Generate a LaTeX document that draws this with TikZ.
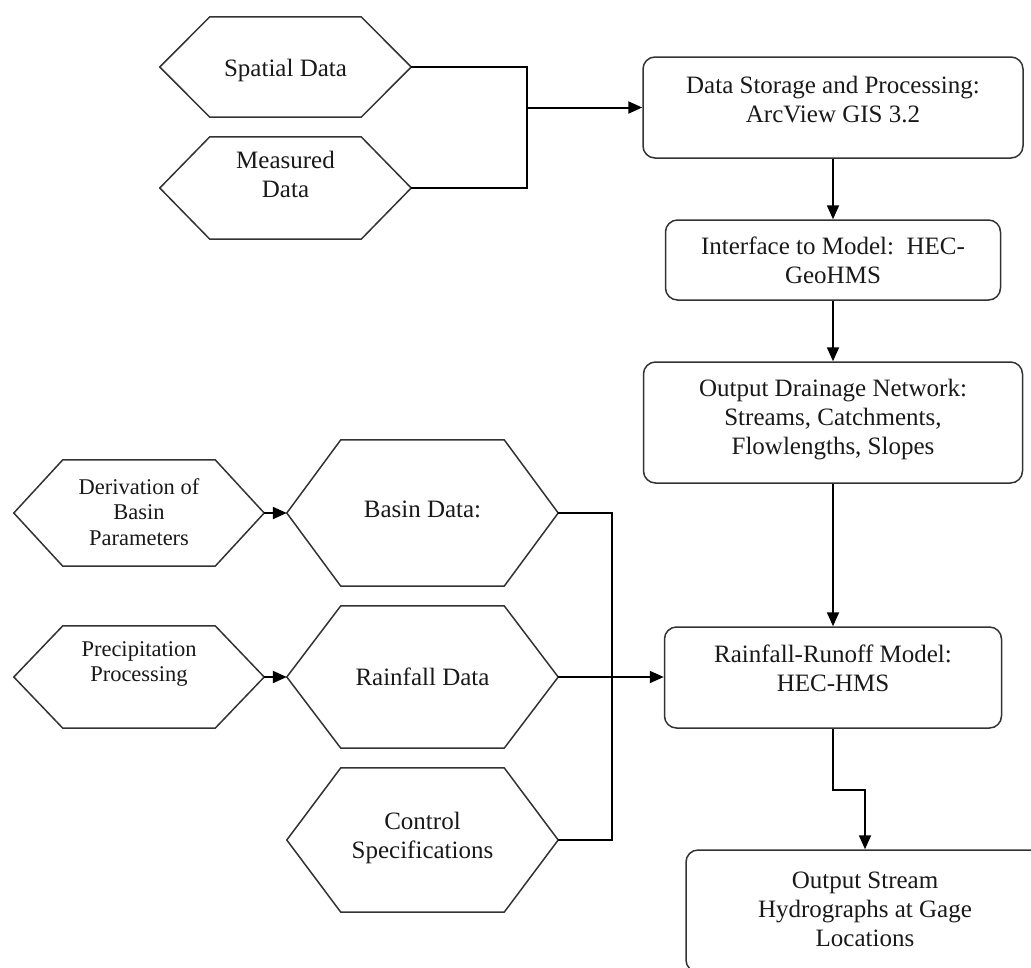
\documentclass[tikz,border=0pt]{standalone}
\usepackage{fontspec}
\setmainfont{Liberation Serif}
\usetikzlibrary{arrows.meta,calc}
\newcommand\mkhex[2]{%
  \draw[shapeline] (#1.west) -- ($(#1.north west)+(#2,0)$) -- ($(#1.north east)+(-#2,0)$)
    -- (#1.east) -- ($(#1.south east)+(-#2,0)$) -- ($(#1.south west)+(#2,0)$) -- cycle;}
\begin{document}
\begin{tikzpicture}[x=1pt,y=-1pt,
  shapeline/.style={draw=black!80, line width=1.5pt},
  box/.style={shapeline, rounded corners=12pt, rectangle, inner sep=0pt},
  hexnode/.style={rectangle, inner sep=0pt},
  txt/.style={align=center, font=\fontsize{25}{29}\selectfont, text=black!90, inner sep=0pt},
  smalltxt/.style={txt, font=\fontsize{22.5}{25.5}\selectfont},
  conn/.style={line width=2pt, draw=black},
  arr/.style={conn, -{Triangle[length=14pt,width=12pt]}},
]
\useasboundingbox (0,0) rectangle (1031,967);

% ---------- hexagons ----------
\node[hexnode, minimum width=251pt, minimum height=100pt] (spatial) at (285.5,67) {};
\node[hexnode, minimum width=251pt, minimum height=102pt] (measured) at (285.5,188) {};
\node[hexnode, minimum width=250pt, minimum height=106pt] (deriv) at (139,513) {};
\node[hexnode, minimum width=271pt, minimum height=146pt] (basin) at (422.5,513) {};
\node[hexnode, minimum width=250pt, minimum height=102pt] (precip) at (139,677) {};
\node[hexnode, minimum width=271pt, minimum height=142pt] (rain) at (422.5,677) {};
\node[hexnode, minimum width=271pt, minimum height=144pt] (control) at (422.5,840) {};

\mkhex{spatial}{50}
\mkhex{measured}{50}
\mkhex{deriv}{49}
\mkhex{basin}{54}
\mkhex{precip}{49}
\mkhex{rain}{54}
\mkhex{control}{54}

\node[txt] (spatialT) at ($(spatial)+(0,3)$) {Spatial Data};
\node[txt] (measuredT) at ($(measured)+(0,-14)$) {Measured\\Data};
\node[smalltxt] (derivT) at ($(deriv)+(0,-1)$) {Derivation of\\Basin\\Parameters};
\node[txt] (basinT) at ($(basin)+(0,-4)$) {Basin Data:};
\node[smalltxt] (precipT) at ($(precip)+(0,-13)$) {Precipitation\\Processing};
\node[txt] (rainT) at ($(rain)+(0,0)$) {Rainfall Data};
\node[txt] (controlT) at ($(control)+(0,-2)$) {Control\\Specifications};

% ---------- boxes ----------
\node[box, minimum width=380pt, minimum height=101pt] (b1) at (833,107.5) {};
\node[txt] (b1T) at (833,100) {Data Storage and Processing:\\ArcView GIS 3.2};
\node[box, minimum width=335pt, minimum height=80pt] (b2) at (833,260) {};
\node[txt] (b2T) at (833,260) {Interface to Model:\ \ HEC-\\GeoHMS};
\node[box, minimum width=379pt, minimum height=121pt] (b3) at (833,422.5) {};
\node[txt] (b3T) at (833,420) {Output Drainage Network:\\Streams, Catchments,\\Flowlengths, Slopes};
\node[box, minimum width=337pt, minimum height=101pt] (b4) at (833,677.5) {};
\node[txt] (b4T) at (833,668) {Rainfall-Runoff Model:\\HEC-HMS};
\begin{scope}
  \clip (0,0) rectangle (1031,967);
  \node[box, minimum width=358pt, minimum height=122pt] (b5) at (865,911) {};
\end{scope}
\node[txt] (b5T) at (865,909) {Output Stream\\Hydrographs at Gage\\Locations};

% ---------- connectors ----------
\coordinate (jA) at (527,107.5);
\coordinate (jC) at (612,677);
\draw[conn] (spatial.east) -| (jA) |- (measured.east);
\draw[arr] (jA) -- (b1.west);
\draw[arr] (b1.south) -- (b1.south |- b2.north);
\draw[arr] (b2.south) -- (b2.south |- b3.north);
\draw[arr] (b3.south) -- (b3.south |- b4.north);
\draw[arr] (b4.south) -- ++(0,61) -| (b5.north);
\draw[arr] (deriv.east) -- (basin.west);
\draw[arr] (precip.east) -- (rain.west);
\draw[conn] (basin.east) -| (jC) |- (control.east);
\draw[arr] (rain.east) -- (rain.east -| b4.west);
\end{tikzpicture}
\end{document}
